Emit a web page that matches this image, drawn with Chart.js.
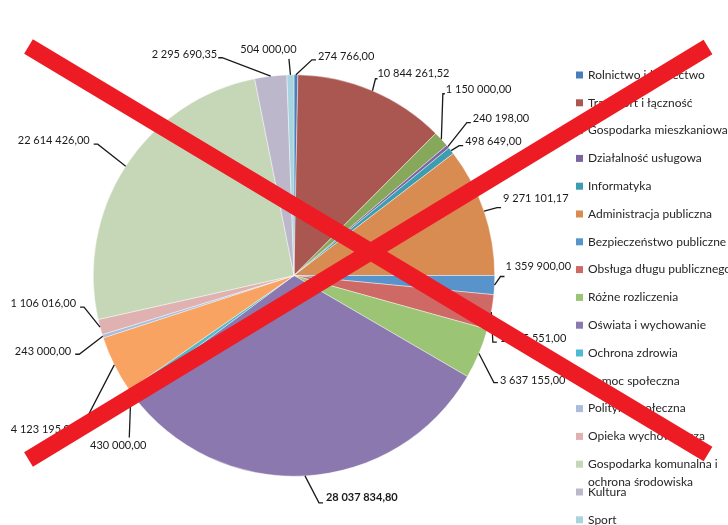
<!DOCTYPE html>
<html>
<head>
<meta charset="utf-8">
<script src="https://cdn.jsdelivr.net/npm/chart.js@4.4.1/dist/chart.umd.min.js"></script>
<style>
  html, body { margin: 0; padding: 0; background: #fff; }
  #wrap { width: 728px; height: 525px; }
</style>
</head>
<body>
<div id="wrap"><canvas id="pieChart" width="728" height="525"></canvas></div>
<script>
const categories = [
    "Rolnictwo i łowiectwo",
    "Transport i łączność",
    "Gospodarka mieszkaniowa",
    "Działalność usługowa",
    "Informatyka",
    "Administracja publiczna",
    "Bezpieczeństwo publiczne",
    "Obsługa długu publicznego",
    "Różne rozliczenia",
    "Oświata i wychowanie",
    "Ochrona zdrowia",
    "Pomoc społeczna",
    "Polityka społeczna",
    "Opieka wychowawcza",
    "Gospodarka komunalna i ochrona środowiska",
    "Kultura",
    "Sport"
]

const amounts = [274766.00, 10844261.52, 1150000.00, 240198.00, 498649.00, 9271101.17, 1359900.00, 2485551.00,
    3637155.00, 28037834.80, 430000.00, 4123195.00, 243000.00, 1106016.00, 22614426.00, 2295690.35, 504000.00]

const colors = [
    "#4a7ebb", "#aa5751", "#87a85b", "#7c659f", "#3c9db0", "#d98c52",
    "#5893cc", "#ce6965", "#9cc475", "#8a78af", "#4cbbcf", "#f8a362",
    "#a9bcda", "#dfb1b0", "#c5d7b7", "#bdb7cc", "#a8d4df"
]

// where each value label sits, relative to the slice's outer edge
const labelLayout = [
    { dx: 16, dy: -15, s: "r", ty: -3 },
    { dx: 3, dy: -12, s: "r", ty: -5, hl: 2, tx: 2 },
    { dx: 1.5, dy: -45.5, s: "r", ty: -4, hl: 2, tx: 3 },
    { dx: 19, dy: -24, s: "r", ty: -4 },
    { dx: 8, dy: -5, s: "r", ty: -4 },
    { dx: 13, dy: -3.5, s: "r", ty: -9 },
    { dx: 6, dy: -8.6, s: "r", ty: -10, tx: 5 },
    { dx: 1.5, dy: 30, s: "r", ty: -4, tx: 8 },
    { dx: 15, dy: 29, s: "r", ty: -2 },
    { dx: 14, dy: 27, s: "r", ty: -5, tx: 7 },
    { dx: -1.6, dy: 45, s: "c", tx: -11, ty: 8 },
    { dx: -30, dy: 58, s: "l", ty: 7, tx: 8 },
    { dx: -23.5, dy: 18, s: "l", ty: -3, tx: 8 },
    { dx: -16, dy: -20, s: "l", ty: -4, tx: 8 },
    { dx: -28, dy: -22, s: "l", ty: -4, tx: 8 },
    { dx: -48.5, dy: -18.4, s: "l", ty: -3, tx: 5 },
    { dx: -1.5, dy: -16, s: "c", tx: -20.5, ty: -9 }
]

const FONT = "Lato, 'Open Sans', sans-serif"

function formatPl(v) {
    const parts = v.toFixed(2).split(".")
    return parts[0].replace(/\B(?=(\d{3})+(?!\d))/g, " ") + "," + parts[1]
}

const valueLabels = {
    id: "valueLabels",
    afterDraw(chart) {
        const ctx = chart.ctx
        const meta = chart.getDatasetMeta(0)
        const values = chart.data.datasets[0].data
        const maxVal = Math.max(...values)
        ctx.save()
        ctx.strokeStyle = "#1a1a1a"
        ctx.lineWidth = 1.3
        ctx.fillStyle = "#1a1a1a"
        ctx.textBaseline = "middle"
        meta.data.forEach((arc, i) => {
            const p = arc.getProps(["x", "y", "startAngle", "endAngle", "outerRadius"], true)
            const mid = (p.startAngle + p.endAngle) / 2
            const ex = p.x + Math.cos(mid) * p.outerRadius
            const ey = p.y + Math.sin(mid) * p.outerRadius
            const L = labelLayout[i]
            const bx = ex + L.dx, by = ey + L.dy
            const hl = L.hl !== undefined ? L.hl : 4
            const tx = L.tx !== undefined ? L.tx : 6
            ctx.beginPath()
            ctx.moveTo(ex, ey)
            ctx.lineTo(bx, by)
            if (L.s === "r") ctx.lineTo(bx + hl, by)
            if (L.s === "l") ctx.lineTo(bx - hl, by)
            ctx.stroke()
            ctx.font = (values[i] === maxVal ? "bold " : "") + "11px " + FONT
            const txt = formatPl(values[i])
            if (L.s === "r") {
                ctx.textAlign = "left"
                ctx.fillText(txt, bx + tx, by + L.ty)
            } else if (L.s === "l") {
                ctx.textAlign = "right"
                ctx.fillText(txt, bx - tx, by + L.ty)
            } else {
                ctx.textAlign = "center"
                ctx.fillText(txt, bx + tx, by + L.ty)
            }
        })
        ctx.restore()
    }
}

const sideLegend = {
    id: "sideLegend",
    afterDraw(chart) {
        const ctx = chart.ctx
        const labels = chart.data.labels
        const bg = chart.data.datasets[0].backgroundColor
        ctx.save()
        ctx.font = "12px " + FONT
        ctx.textBaseline = "middle"
        ctx.textAlign = "left"
        labels.forEach((lab, i) => {
            const y = 75 + i * 27.8
            ctx.fillStyle = bg[i]
            ctx.fillRect(576, y - 3.5, 7, 7)
            ctx.fillStyle = "#262626"
            // simple word wrap
            const words = lab.split(" ")
            let line = "", row = 0
            words.forEach(w => {
                const test = line ? line + " " + w : w
                if (ctx.measureText(test).width > 150 && line) {
                    ctx.fillText(line, 588, y + row * 18)
                    line = w
                    row++
                } else {
                    line = test
                }
            })
            ctx.fillText(line, 588, y + row * 18)
        })
        ctx.restore()
    }
}

const crossOut = {
    id: "crossOut",
    afterDraw(chart) {
        const ctx = chart.ctx
        ctx.save()
        ctx.strokeStyle = "#ed1c24"
        ctx.lineWidth = 17
        ctx.lineCap = "butt"
        ctx.beginPath()
        ctx.moveTo(28.5, 46.5)
        ctx.lineTo(708, 454)
        ctx.moveTo(28.5, 459.5)
        ctx.lineTo(708, 47)
        ctx.stroke()
        ctx.restore()
    }
}

const pieChart = document.getElementById("pieChart")

new Chart(pieChart, {
    type: "pie",
    data: {
        labels: categories,
        datasets: [
            {
                label: "Wydatki",
                data: amounts,
                backgroundColor: colors,
                borderColor: "rgba(255,255,255,0.7)",
                borderWidth: 0.6
            }
        ]
    },
    options: {
        responsive: false,
        animation: false,
        layout: { padding: { left: 93, right: 233, top: 74.5, bottom: 48.5 } },
        plugins: {
            legend: { display: false },
            tooltip: { enabled: false }
        }
    },
    plugins: [valueLabels, sideLegend, crossOut]
})
</script>
</body>
</html>
